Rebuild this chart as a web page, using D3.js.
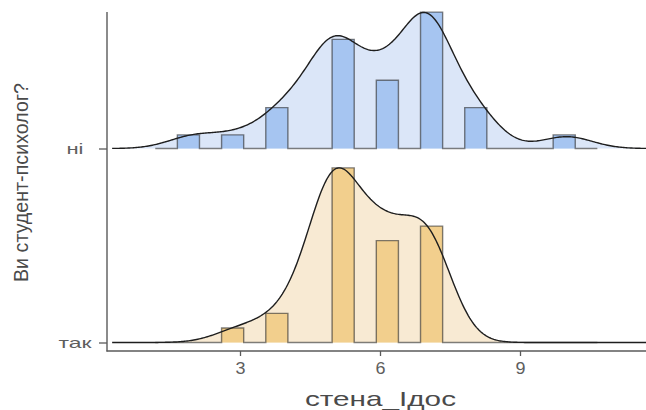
<!DOCTYPE html>
<html><head><meta charset="utf-8">
<script src="https://cdn.jsdelivr.net/npm/d3@7/dist/d3.min.js"></script>
<style>body{margin:0;background:#fff}svg{display:block}</style>
</head><body>
<svg id="chart" width="646" height="410"></svg>
<script>
// ---- data ----
const groups = ["так", "ні"];                 // bottom to top
const scoreValues = [2, 3, 4, 5, 6, 7, 8, 10];
const countsNi  = [1, 1, 3, 8, 5, 10, 3, 1];
const countsTak = [0, 1, 2, 12, 7, 8, 0, 0];
const xTicks = [3, 6, 9];
const xTitle = "стена_Ідос";
const yTitle = "Ви студент-психолог?";
// histogram bins (stat_binline)
const binStart = 1.1842, binWidth = 0.47368, nBins = 20;
// density grid range
const gridFrom = 0.26, gridTo = 11.74;

const colors = {
  "ні":  {bar: "#A6C5F1", ridge: "#DBE6F8"},
  "так": {bar: "#F2CF8D", ridge: "#F8EAD3"}
};

// ---- build samples ----
function expand(counts){ const a=[]; counts.forEach((c,i)=>{for(let k=0;k<c;k++)a.push(scoreValues[i]);}); return a; }
const samples = {"ні": expand(countsNi), "так": expand(countsTak)};
const pooled = samples["ні"].concat(samples["так"]).sort(d3.ascending);
const sdP = d3.deviation(pooled);
const iqr = d3.quantileSorted(pooled, 0.75) - d3.quantileSorted(pooled, 0.25);
const bw = 0.9 * Math.min(sdP, iqr / 1.34) * Math.pow(pooled.length, -0.2);

function kde(sample, xs){
  const n = sample.length, c = 1/(n*bw*Math.sqrt(2*Math.PI));
  return xs.map(x => [x, c*d3.sum(sample, v => Math.exp(-0.5*((x-v)/bw)**2))]);
}
const grid = d3.range(0, 401).map(i => gridFrom + (gridTo-gridFrom)*i/400);
const dens = {}; groups.forEach(g => dens[g] = kde(samples[g], grid));

const edges = d3.range(0, nBins+1).map(i => binStart + i*binWidth);
const hist = {};
groups.forEach(g => {
  const n = samples[g].length;
  const bins = d3.bin().domain([edges[0], edges[nBins]]).thresholds(edges.slice(1, nBins))(samples[g]);
  hist[g] = bins.map(b => ({x0: b.x0, x1: b.x1, d: b.length/(n*binWidth), c: b.length}));
});

// ---- scales ----
const svg = d3.select("#chart");
const plotL = 107, plotR = 646, plotT = 12, plotB = 351;
const x = d3.scaleLinear().domain([0.15, 11.7]).range([plotL, plotR]);
const y = d3.scalePoint().domain(groups).range([342.5, 148.5]);
const rowStep = Math.abs(y("ні") - y("так"));
const ridgeScale = 0.9;
const maxDens = d3.max(groups, g => d3.max(dens[g], d => d[1]));
const maxHist = d3.max(groups, g => d3.max(hist[g], d => d.d));
const hD = d3.scaleLinear().domain([0, maxDens]).range([0, ridgeScale*rowStep]);
const hH = d3.scaleLinear().domain([0, maxHist]).range([0, ridgeScale*rowStep]);

svg.append("defs").append("clipPath").attr("id","clip")
  .append("rect").attr("x", plotL).attr("y", 0).attr("width", plotR-plotL).attr("height", plotB);

const plot = svg.append("g").attr("clip-path", "url(#clip)");

["ні", "так"].forEach(g => {
  const base = y(g);
  const gg = plot.append("g");
  const area = d3.area().x(d => x(d[0])).y0(base).y1(d => base - hD(d[1]));
  const line = d3.line().x(d => x(d[0])).y(d => base - hD(d[1]));
  gg.append("path").datum(dens[g]).attr("d", area).attr("fill", colors[g].ridge);
  gg.selectAll("rect.bar").data(hist[g].filter(b => b.c > 0)).join("rect")
    .attr("x", b => x(b.x0)).attr("width", b => x(b.x1) - x(b.x0))
    .attr("y", b => base - hH(b.d)).attr("height", b => hH(b.d))
    .attr("fill", colors[g].bar);
  const pts = [[hist[g][0].x0, 0]];
  hist[g].forEach(b => { pts.push([b.x0, b.d]); pts.push([b.x1, b.d]); });
  pts.push([hist[g][hist[g].length-1].x1, 0]);
  gg.append("path").datum(pts)
    .attr("d", d3.line().x(d => x(d[0])).y(d => base - hH(d[1])))
    .attr("fill", "none").attr("stroke", "#2b2b2b").attr("stroke-opacity", 0.6).attr("stroke-width", 1.4);
  gg.append("path").datum(dens[g]).attr("d", line)
    .attr("fill", "none").attr("stroke", "#1e1e1e").attr("stroke-width", 1.4);
});

// ---- axes ----
const axisColor = "#5a5a5a";
const font = "'Liberation Sans', Arial, sans-serif";
svg.append("line").attr("x1", plotL).attr("x2", plotL).attr("y1", plotT).attr("y2", plotB+0.5)
  .attr("stroke", axisColor).attr("stroke-width", 1.4);
svg.append("line").attr("x1", plotL-0.5).attr("x2", plotR).attr("y1", plotB).attr("y2", plotB)
  .attr("stroke", axisColor).attr("stroke-width", 1.4);

const yAx = svg.append("g").attr("transform", `translate(${plotL},0)`)
  .call(d3.axisLeft(y).tickSize(8).tickSizeOuter(0));
yAx.select(".domain").remove();
yAx.selectAll(".tick line").attr("stroke", axisColor).attr("stroke-width", 1.3);
yAx.selectAll(".tick text")
  .attr("x", 75 - plotL).attr("text-anchor", "middle").attr("dy", "0.32em")
  .attr("fill", "#5e5e5e").style("font-family", font).style("font-size", "15px")
  .attr("textLength", d => d === "так" ? 33 : 17).attr("lengthAdjust", "spacingAndGlyphs");

const xAx = svg.append("g").attr("transform", `translate(0,${plotB})`)
  .call(d3.axisBottom(x).tickValues(xTicks).tickSize(5).tickSizeOuter(0).tickPadding(7));
xAx.select(".domain").remove();
xAx.selectAll(".tick line").attr("stroke", axisColor).attr("stroke-width", 1.3);
xAx.selectAll(".tick text")
  .attr("fill", "#5e5e5e").style("font-family", font).style("font-size", "16px")
  .attr("textLength", 10).attr("lengthAdjust", "spacingAndGlyphs");

svg.append("text").text(xTitle)
  .attr("x", 380.5).attr("y", 406).attr("text-anchor", "middle")
  .attr("fill", "#4a4a4a").style("font-family", font).style("font-size", "21px")
  .attr("textLength", 151).attr("lengthAdjust", "spacingAndGlyphs");

svg.append("text").text(yTitle)
  .attr("transform", "translate(28,182.5) scale(1.05,1) rotate(-90)")
  .attr("text-anchor", "middle")
  .attr("fill", "#4a4a4a").style("font-family", font).style("font-size", "20px")
  .attr("textLength", 199).attr("lengthAdjust", "spacingAndGlyphs");
</script>
</body></html>
